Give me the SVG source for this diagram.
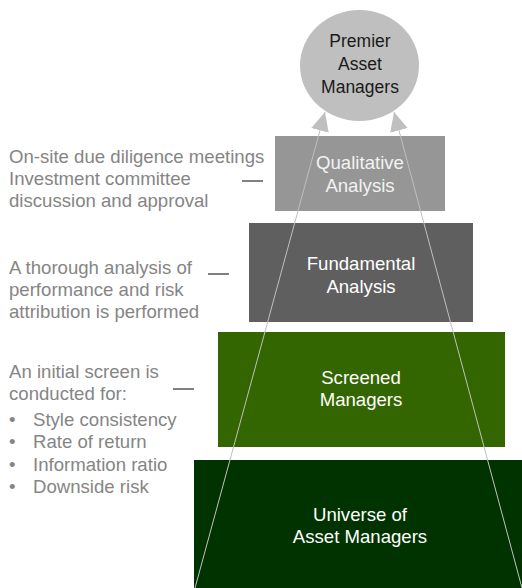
<svg xmlns="http://www.w3.org/2000/svg" width="522" height="588" viewBox="0 0 522 588">
<defs>
<style>
text{font-family:"Liberation Sans",Arial,sans-serif;font-size:18.6px}
.lbl{fill:#858585}
.node{fill:#ffffff;text-anchor:middle}
.dash{stroke:#808080;stroke-width:2}
.conn{stroke:#bfbfbf;stroke-width:1;fill:none}
</style>
<marker id="ah" markerUnits="userSpaceOnUse" markerWidth="20" markerHeight="20" viewBox="0 0 20 20" refX="19" refY="10" orient="auto">
<path d="M0,1 L19,10 L0,19 Z" fill="#bfbfbf"/>
</marker>
</defs>
<g id="universe">
<rect x="194" y="460" width="328" height="128" fill="#003300"/>
<text class="node" x="360" y="521">Universe of</text>
<text class="node" x="360" y="543">Asset Managers</text>
</g>
<g id="screened">
<rect x="218" y="332" width="287" height="115" fill="#336600"/>
<text class="node" x="361" y="384">Screened</text>
<text class="node" x="361" y="406">Managers</text>
</g>
<g id="fundamental">
<rect x="249" y="223" width="224" height="99" fill="#5f5f5f"/>
<text class="node" x="361" y="270">Fundamental</text>
<text class="node" x="361" y="293">Analysis</text>
</g>
<g id="qualitative">
<rect x="275" y="136" width="170" height="75" fill="#969696"/>
<text class="node" x="360" y="169" style="fill:#f2f2f2">Qualitative</text>
<text class="node" x="360" y="192" style="fill:#f2f2f2">Analysis</text>
</g>
<g id="premier">
<ellipse cx="359.5" cy="65.5" rx="59.5" ry="55.5" fill="#bfbfbf"/>
<text class="node" x="360" y="47" style="fill:#1a1a1a;font-size:17.5px">Premier</text>
<text class="node" x="360" y="70" style="fill:#1a1a1a;font-size:17.5px">Asset</text>
<text class="node" x="360" y="93" style="fill:#1a1a1a;font-size:17.5px">Managers</text>
</g>
<g id="connectors">
<line class="conn" x1="195" y1="588" x2="325" y2="112" marker-end="url(#ah)"/>
<line class="conn" x1="522" y1="588" x2="394" y2="112" marker-end="url(#ah)"/>
<line class="dash" x1="242" y1="181" x2="263" y2="181"/>
<line class="dash" x1="208" y1="274" x2="229" y2="274"/>
<line class="dash" x1="173" y1="389" x2="194" y2="389"/>
</g>
<g id="note-qualitative">
<text class="lbl" x="9" y="163">On-site due diligence meetings</text>
<text class="lbl" x="9" y="185">Investment committee</text>
<text class="lbl" x="9" y="207">discussion and approval</text>
</g>
<g id="note-fundamental">
<text class="lbl" x="9" y="274">A thorough analysis of</text>
<text class="lbl" x="9" y="296">performance and risk</text>
<text class="lbl" x="9" y="318">attribution is performed</text>
</g>
<g id="note-screened">
<text class="lbl" x="9" y="378">An initial screen is</text>
<text class="lbl" x="9" y="400">conducted for:</text>
<text class="lbl" x="9" y="426">•</text><text class="lbl" x="33" y="426">Style consistency</text>
<text class="lbl" x="9" y="448">•</text><text class="lbl" x="33" y="448">Rate of return</text>
<text class="lbl" x="9" y="471">•</text><text class="lbl" x="33" y="471">Information ratio</text>
<text class="lbl" x="9" y="493">•</text><text class="lbl" x="33" y="493">Downside risk</text>
</g>
</svg>
